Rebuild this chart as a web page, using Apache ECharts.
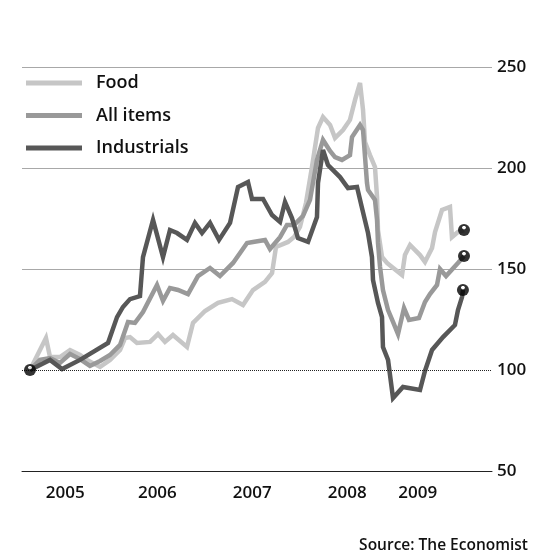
<!DOCTYPE html>
<html><head><meta charset="utf-8">
<script src="https://cdn.jsdelivr.net/npm/echarts@6/dist/echarts.min.js"></script>
<style>html,body{margin:0;padding:0;background:#fff}#c{width:534px;height:552px}</style>
</head><body><div id="c"></div>
<script>
// Axis labels
const yearLabels = ['2005', '2006', '2007', '2008', '2009'];
const yearLabelDates = [2005.46, 2006.44, 2007.45, 2008.46, 2009.21];
const yTicks = [50, 100, 150, 200, 250];

// Food
const foodDates = [2005.085, 2005.255, 2005.298, 2005.404, 2005.511, 2005.617, 2005.691, 2005.830, 2005.936, 2006.043,
  2006.096, 2006.149, 2006.223, 2006.362, 2006.447, 2006.521, 2006.606, 2006.755, 2006.819, 2006.947,
  2007.085, 2007.234, 2007.351, 2007.457, 2007.585, 2007.660, 2007.702, 2007.830, 2007.894, 2007.957,
  2008.021, 2008.085, 2008.149, 2008.202, 2008.277, 2008.330, 2008.415, 2008.489, 2008.543, 2008.596,
  2008.628, 2008.649, 2008.702, 2008.755, 2008.777, 2008.787, 2008.830, 2008.883, 2008.936, 2009.043,
  2009.074, 2009.128, 2009.234, 2009.287, 2009.362, 2009.394, 2009.468, 2009.553, 2009.574, 2009.638, 2009.702];
const foodValues = [100, 115.8, 106.4, 106.4, 109.9, 107.4, 105.0, 101.5, 105.0, 109.9,
  115.8, 116.3, 113.4, 113.9, 117.8, 113.9, 117.3, 111.4, 123.3, 129.2,
  133.2, 135.1, 132.2, 139.6, 143.6, 148.0, 160.9, 163.4, 165.8, 170.8,
  182.7, 200.5, 219.8, 225.2, 221.3, 214.9, 218.8, 223.8, 233.7, 242.1,
  228.7, 212.9, 206.4, 200.5, 185.6, 169.3, 155.9, 153.0, 151.0, 147.0,
  157.0, 161.9, 156.9, 153.5, 160.4, 168.3, 179.2, 180.7, 165.8, 168.3, 169.3];

// All items
const allItemsDates = [2005.085, 2005.191, 2005.298, 2005.404, 2005.511, 2005.617, 2005.723, 2005.830, 2005.936, 2006.043,
  2006.128, 2006.202, 2006.287, 2006.436, 2006.500, 2006.574, 2006.660, 2006.766, 2006.872, 2007.000,
  2007.106, 2007.245, 2007.394, 2007.457, 2007.585, 2007.638, 2007.745, 2007.819, 2007.894, 2007.989,
  2008.064, 2008.138, 2008.202, 2008.277, 2008.330, 2008.404, 2008.489, 2008.511, 2008.596, 2008.628,
  2008.670, 2008.681, 2008.755, 2008.777, 2008.787, 2008.809, 2008.840, 2008.894, 2008.947, 2009.000,
  2009.064, 2009.117, 2009.223, 2009.287, 2009.340, 2009.415, 2009.447, 2009.511, 2009.638, 2009.702];
const allItemsValues = [100, 105.0, 105.9, 103.5, 107.9, 105.4, 102.0, 104.5, 107.4, 112.4,
  123.8, 123.3, 128.7, 142.1, 134.2, 140.6, 139.6, 137.6, 146.5, 150.5,
  146.5, 153.0, 162.9, 163.4, 164.4, 159.9, 165.8, 171.8, 171.8, 176.2,
  184.2, 204.0, 213.9, 208.4, 205.4, 204.0, 206.4, 215.3, 221.3, 218.8,
  192.6, 189.1, 184.2, 174.3, 162.9, 151.0, 139.6, 129.7, 123.8, 117.8,
  130.7, 124.8, 125.7, 133.7, 137.6, 142.1, 150.0, 146.5, 153.0, 156.4];

// Industrials
const industrialsDates = [2005.085, 2005.298, 2005.426, 2005.617, 2005.915, 2006.011, 2006.074, 2006.149, 2006.255, 2006.287,
  2006.394, 2006.500, 2006.574, 2006.649, 2006.755, 2006.840, 2006.915, 2007.000, 2007.096, 2007.213,
  2007.298, 2007.404, 2007.447, 2007.564, 2007.660, 2007.745, 2007.798, 2007.872, 2007.936, 2008.043,
  2008.138, 2008.149, 2008.202, 2008.255, 2008.383, 2008.468, 2008.564, 2008.617, 2008.681, 2008.723,
  2008.734, 2008.787, 2008.830, 2008.840, 2008.894, 2008.947, 2009.053, 2009.234, 2009.287, 2009.362,
  2009.479, 2009.606, 2009.638, 2009.681, 2009.691];
const industrialsValues = [100, 105.0, 100.5, 105.0, 113.4, 126.2, 131.2, 135.1, 136.6, 155.9,
  174.3, 155.9, 169.3, 167.8, 164.4, 172.8, 167.8, 172.8, 164.4, 172.8,
  190.6, 193.1, 184.7, 184.7, 176.7, 173.3, 183.2, 175.2, 165.3, 163.4,
  175.7, 192.6, 208.9, 201.5, 195.5, 190.1, 190.6, 180.2, 167.8, 155.9,
  144.6, 133.2, 126.2, 111.4, 105.0, 86.1, 91.6, 90.1, 99.5, 109.9,
  116.3, 122.3, 129.7, 136.1, 139.6];

const zip = (d, v) => d.slice(0, Math.min(d.length, v.length)).map((t, i) => [t, v[i]]);
const last = (d, v) => { const n = Math.min(d.length, v.length) - 1; return [d[n], v[n]]; };

const FONT = 'Open Sans';
const FW = 600;
const TXT = '#111';
const glossy = {
  type: 'radial', x: 0.5, y: 0.3, r: 0.22,
  colorStops: [{offset: 0, color: '#fff'}, {offset: 0.55, color: '#fff'}, {offset: 0.8, color: '#000'}, {offset: 1, color: '#000'}]
};

function lineSeries(name, color, data, extra) {
  return Object.assign({
    name, type: 'line', data, color,
    showSymbol: false, symbol: 'none', silent: true,
    lineStyle: {color, width: 4.5, join: 'miter', miterLimit: 4},
    itemStyle: {color}
  }, extra || {});
}

const chart = echarts.init(document.getElementById('c'), null, {renderer: 'canvas'});
chart.setOption({
  animation: false,
  backgroundColor: '#fff',
  title: {
    text: 'Source: The Economist', right: 6, top: 536, padding: 0,
    textStyle: {fontFamily: FONT, fontSize: 15.5, fontWeight: FW, color: TXT, lineHeight: 20}
  },
  legend: {
    data: ['Food', 'All items', 'Industrials'],
    orient: 'vertical', left: 26, top: 72, padding: 0,
    itemWidth: 56, itemHeight: 5, itemGap: 10.5, icon: 'rect', selectedMode: false,
    textStyle: {fontFamily: FONT, fontSize: 18, fontWeight: FW, color: TXT, lineHeight: 22, padding: [0, 0, 0, 9]}
  },
  grid: {left: 22, right: 42, top: 67, bottom: 81, containLabel: false},
  xAxis: {
    type: 'value', min: 2005, max: 2010,
    axisLine: {show: true, onZero: false, lineStyle: {color: '#222', width: 1}},
    axisTick: {show: false},
    splitLine: {show: false},
    axisLabel: {
      customValues: yearLabelDates,
      formatter: (v) => {
        let bi = 0;
        yearLabelDates.forEach((d, i) => { if (Math.abs(d - v) < Math.abs(yearLabelDates[bi] - v)) bi = i; });
        return yearLabels[bi];
      },
      margin: 12, fontFamily: FONT, fontSize: 17, fontWeight: FW, color: TXT, lineHeight: 20
    }
  },
  yAxis: {
    type: 'value', position: 'right', min: yTicks[0], max: yTicks[yTicks.length - 1], interval: 50,
    axisLine: {show: false}, axisTick: {show: false},
    axisLabel: {margin: 5, fontFamily: FONT, fontSize: 17, fontWeight: FW, color: TXT},
    splitLine: {show: true, lineStyle: {color: ['rgba(0,0,0,0)', 'rgba(0,0,0,0)', '#a8a8a8', '#a8a8a8', '#a8a8a8'], width: 1}}
  },
  series: [
    lineSeries('Food', '#c6c6c6', zip(foodDates, foodValues), {
      markLine: {
        silent: true, symbol: 'none', label: {show: false},
        lineStyle: {type: [1, 1], color: '#222', width: 1},
        data: [{yAxis: 100}]
      }
    }),
    lineSeries('All items', '#999999', zip(allItemsDates, allItemsValues)),
    lineSeries('Industrials', '#575757', zip(industrialsDates, industrialsValues)),
    {
      name: 'dots', type: 'scatter', silent: true, z: 5,
      symbol: 'circle', symbolSize: 12,
      itemStyle: {color: glossy},
      data: [
        [foodDates[0], foodValues[0]],
        last(foodDates, foodValues),
        last(allItemsDates, allItemsValues),
        last(industrialsDates, industrialsValues)
      ]
    }
  ]
});
</script>
</body></html>
